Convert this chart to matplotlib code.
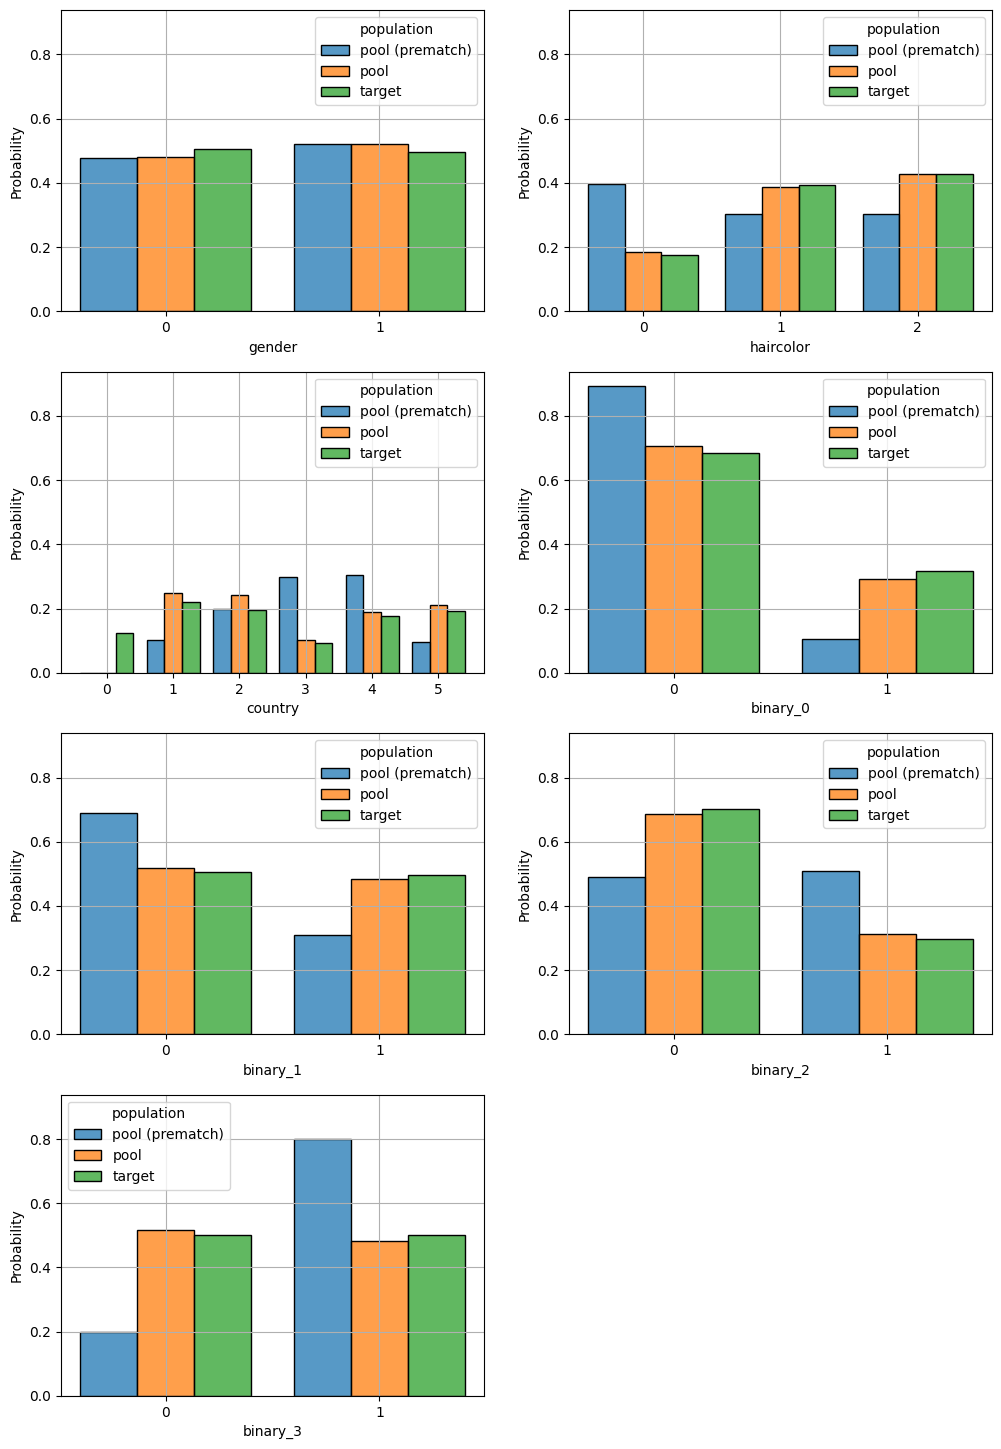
import matplotlib.pyplot as plt
import matplotlib.colors as mcolors
import numpy as np

# population names and colours
populations = ['pool (prematch)', 'pool', 'target']
colors = ['#1f77b4', '#ff7f0e', '#2ca02c']

# probabilities per variable, one list per population
gender_cats = [0, 1]
gender = [[0.479, 0.521], [0.480, 0.520], [0.505, 0.495]]

haircolor_cats = [0, 1, 2]
haircolor = [[0.396, 0.302, 0.302], [0.184, 0.388, 0.428], [0.176, 0.395, 0.429]]

country_cats = [0, 1, 2, 3, 4, 5]
country = [[0.0, 0.101, 0.198, 0.300, 0.304, 0.095],
           [0.0, 0.250, 0.242, 0.104, 0.191, 0.213],
           [0.123, 0.220, 0.195, 0.092, 0.176, 0.194]]

binary_0_cats = [0, 1]
binary_0 = [[0.893, 0.107], [0.706, 0.294], [0.684, 0.316]]

binary_1_cats = [0, 1]
binary_1 = [[0.690, 0.310], [0.517, 0.483], [0.505, 0.495]]

binary_2_cats = [0, 1]
binary_2 = [[0.490, 0.510], [0.686, 0.314], [0.703, 0.297]]

binary_3_cats = [0, 1]
binary_3 = [[0.200, 0.800], [0.516, 0.484], [0.500, 0.500]]

panels = [
    ('gender', gender_cats, gender, 'upper right'),
    ('haircolor', haircolor_cats, haircolor, 'upper right'),
    ('country', country_cats, country, 'upper right'),
    ('binary_0', binary_0_cats, binary_0, 'upper right'),
    ('binary_1', binary_1_cats, binary_1, 'upper right'),
    ('binary_2', binary_2_cats, binary_2, 'upper right'),
    ('binary_3', binary_3_cats, binary_3, 'upper left'),
]

fig, axes = plt.subplots(4, 2, figsize=(10.01, 14.49), dpi=100)
fig.subplots_adjust(left=0.061, right=0.991, top=0.993, bottom=0.0366,
                    wspace=0.2, hspace=0.2)
axes = axes.flatten()

shrink = 0.8
width = shrink / len(populations)

for ax, (name, cats, values, loc) in zip(axes, panels):
    x = np.array(cats, dtype=float)
    for i, (pop, col) in enumerate(zip(populations, colors)):
        # translucent fill, solid black edge (like seaborn's histplot)
        ax.bar(x - shrink / 2 + i * width, values[i], width=width, align='edge',
               facecolor=mcolors.to_rgba(col, 0.75), edgecolor='black',
               linewidth=1, label=pop)
    ax.set_xticks(cats)
    ax.set_xlabel(name)
    ax.set_ylabel('Probability')
    ax.set_ylim(0, 0.938)
    ax.grid(True)
    ax.legend(title='population', loc=loc)

fig.delaxes(axes[7])

plt.savefig('out.png')
